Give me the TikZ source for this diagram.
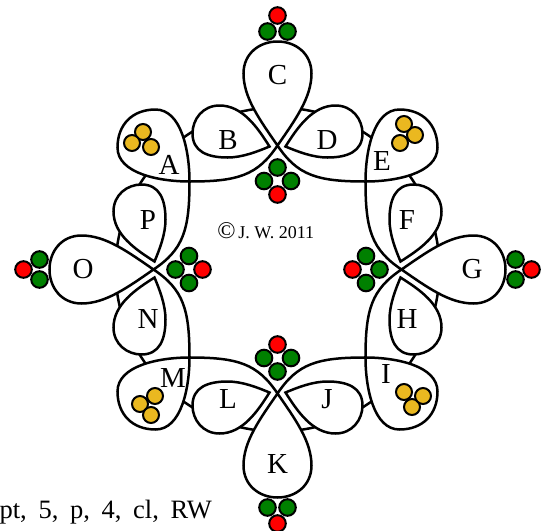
\documentclass[tikz,border=0pt]{standalone}
\usepackage{fontspec}
\setmainfont{Liberation Serif}
\usepackage{xcolor}
\definecolor{dotgreen}{RGB}{0,128,0}
\definecolor{dotred}{RGB}{255,0,0}
\definecolor{dotyellow}{RGB}{234,184,32}

\begin{document}
\begin{tikzpicture}[x=1pt,y=-1pt,line width=2.5pt,
  lobe/.style={draw=black,fill=white},
  gdot/.style={draw=black,line width=2pt,fill=dotgreen},
  rdot/.style={draw=black,line width=2pt,fill=dotred},
  ydot/.style={draw=black,line width=2pt,fill=dotyellow},
  lbl/.style={inner sep=0pt,font=\fontsize{29}{29}\selectfont}]
\useasboundingbox (0,0) rectangle (550,531);
\draw (277.5,269.5) circle (162);
\foreach \ang/\corner/\wl/\curl/\wr in {0/A/B/C/D, 90/M/N/O/P, 180/I/J/K/L, 270/E/F/G/H}{
\begin{scope}[shift={(277.5,269.5)},rotate=\ang]
% lobes beside the junction
\draw[lobe] (-8,-123) .. controls (-20,-142) and (-35,-164) .. (-58,-164) .. controls (-75,-164) and (-85,-150) .. (-85,-136) .. controls (-85,-118) and (-70,-112) .. (-50,-112) .. controls (-35,-112) and (-20,-118) .. cycle;
\draw[lobe] (8,-123) .. controls (20,-142) and (35,-164) .. (58,-164) .. controls (75,-164) and (85,-150) .. (85,-136) .. controls (85,-118) and (70,-112) .. (50,-112) .. controls (35,-112) and (20,-118) .. cycle;
% outer loop and corner loop
\draw[lobe] (0,-124) .. controls (18,-150) and (34,-172) .. (34,-196) .. controls (34,-216) and (18,-228) .. (0,-228) .. controls (-18,-228) and (-34,-216) .. (-34,-196) .. controls (-34,-172) and (-18,-150) .. cycle;
\draw[lobe] (-88,-88) .. controls (-118,-88) and (-160,-96) .. (-160,-122) .. controls (-160,-145) and (-145,-160) .. (-122,-160) .. controls (-96,-160) and (-88,-118) .. cycle;
\draw (-88,-88) .. controls (-40,-88) and (-20,-94) .. (0,-124) .. controls (20,-94) and (40,-88) .. (88,-88);
% dots
\draw[gdot] (0,-102) circle (8.3);
\draw[gdot] (-13.5,-88.5) circle (8.3);
\draw[gdot] (13.5,-88.5) circle (8.3);
\draw[rdot] (0,-75) circle (8.3);
\draw[gdot] (-10,-238) circle (8.3);
\draw[gdot] (10,-238) circle (8.3);
\draw[rdot] (0,-254) circle (8.3);
\draw[ydot] (-134.5,-137.5) circle (8);
\draw[ydot] (-145.5,-126.5) circle (8);
\draw[ydot] (-126.5,-122.5) circle (8);
% labels
\node[lbl] (\corner) at (-108.5,-104.5) {\corner};
\node[lbl] (\wl) at (-49.5,-129.5) {\wl};
\node[lbl] (\curl) at (0,-194.5) {\curl};
\node[lbl] (\wr) at (49.5,-129.5) {\wr};
\end{scope}
}
\node[anchor=base west,inner sep=0pt,font=\fontsize{18}{18}\selectfont] (credit) at (216,238.5) {{\fontsize{24}{24}\selectfont ©}\,J. W. 2011};
\node[anchor=base east,inner sep=0pt,font=\fontsize{26.5}{26.5}\selectfont] (tag) at (213,518) {\spaceskip=0.44em pt, 5, p, 4, cl, RW};
\end{tikzpicture}
\end{document}
